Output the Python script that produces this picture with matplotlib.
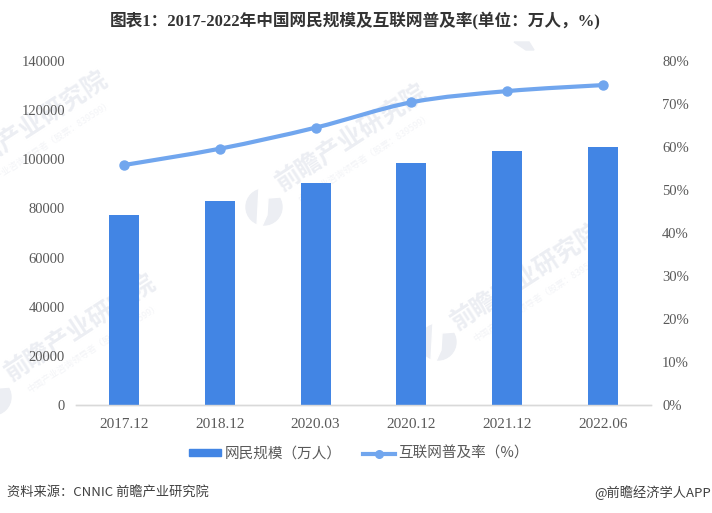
# coding=utf-8
import numpy as np
import matplotlib
matplotlib.use('Agg')
import matplotlib.pyplot as plt
from matplotlib.lines import Line2D
from matplotlib.patches import Patch, PathPatch, Ellipse, Polygon
from matplotlib.path import Path

categories = ['2017.12', '2018.12', '2020.03', '2020.12', '2021.12', '2022.06']
users = [77198, 82851, 90359, 98500, 103195, 105114]
penetration = [55.8, 59.6, 64.5, 70.4, 73.0, 74.4]
left_ticks = [0, 20000, 40000, 60000, 80000, 100000, 120000, 140000]
right_ticks = [0, 10, 20, 30, 40, 50, 60, 70, 80]

BAR_BLUE = '#4285E4'
LINE_BLUE = '#71A6EE'
TEXT_GREY = '#595959'
MARK_GREY = '#ECEEF3'
FONTS = ['Liberation Serif', 'Noto Sans CJK SC']
CJK = ['Noto Sans CJK SC', 'DejaVu Sans']

W, H = 712, 513
plt.rcParams['font.family'] = FONTS

fig = plt.figure(figsize=(W / 100, H / 100), dpi=100)


def px(x, y):
    #  Pixel position from the top left to figure fraction
    return x / W, 1 - y / H


def smooth_path(xs, ys):
    #  Catmull-Rom style curve through the data points
    xs, ys = np.asarray(xs, float), np.asarray(ys, float)
    verts = [(xs[0], ys[0])]
    codes = [Path.MOVETO]
    for i in range(len(xs) - 1):
        i0, i3 = max(i - 1, 0), min(i + 2, len(xs) - 1)
        verts.append((xs[i] + (xs[i + 1] - xs[i0]) / 6, ys[i] + (ys[i + 1] - ys[i0]) / 6))
        verts.append((xs[i + 1] - (xs[i3] - xs[i]) / 6, ys[i + 1] - (ys[i3] - ys[i]) / 6))
        verts.append((xs[i + 1], ys[i + 1]))
        codes += [Path.CURVE4] * 3
    return Path(verts, codes)


#  Watermarks sit behind the axes
for mx, my in [(81, 328), (352, 138), (527, 277), (33, 125)]:
    fig.text(mx / W, 1 - my / H, '前瞻产业研究院', rotation=33, rotation_mode='anchor',
             ha='center', va='center', fontsize=18, fontweight='bold', color=MARK_GREY,
             family=CJK, zorder=-2, clip_on=True)
    fig.text((mx + 13) / W, 1 - (my + 20) / H, '中国产业咨询领导者（股票：839599）', rotation=33,
             rotation_mode='anchor', ha='center', va='center', fontsize=6.5,
             color='#F3F4F7', family=CJK, zorder=-2, clip_on=True)
logo_cut = [(-5, -19), (19, -19), (17, -10), (4, -9), (3, 8), (-2, 19), (-7, 19), (-6, 0)]
for cx, cy in [(264, 207), (438, 342), (-7, 397)]:
    fig.add_artist(Ellipse(px(cx, cy), 36 / W, 36 / H, transform=fig.transFigure,
                           color=MARK_GREY, zorder=-2))
    #  White cut in the logo
    fig.add_artist(Polygon([px(cx + dx, cy + dy) for dx, dy in logo_cut], closed=True,
                           transform=fig.transFigure, color='white', zorder=-1.5))
fig.add_artist(Polygon([px(514, 42), px(529, 42), px(534, 50), px(526, 50)], closed=True,
                       transform=fig.transFigure, color=MARK_GREY, zorder=-2))

ax = fig.add_axes([76 / W, 1 - 405 / H, 575 / W, 344 / H])
ax2 = ax.twinx()
ax.patch.set_alpha(0)
ax2.patch.set_alpha(0)

x = np.arange(len(categories))
ax.bar(x, users, width=0.313, color=BAR_BLUE, zorder=3)
ax.set_xlim(-0.5, 5.5)
ax.set_ylim(0, 140000)
ax.set_yticks(left_ticks)
ax.set_xticks(x)
ax.set_xticklabels(categories)

ax2.set_ylim(0, 80)
ax2.set_yticks(right_ticks)
ax2.set_yticklabels(['%d%%' % t for t in right_ticks])
ax2.add_patch(PathPatch(smooth_path(x, penetration), fill=False, edgecolor=LINE_BLUE,
                        lw=3.0, capstyle='round', zorder=4))
ax2.plot(x, penetration, ls='none', marker='o', ms=6.5, color=LINE_BLUE, zorder=5)

for a in (ax, ax2):
    for side in ('top', 'left', 'right'):
        a.spines[side].set_visible(False)
    a.spines['bottom'].set_color('#D9D9D9')
    a.spines['bottom'].set_linewidth(1.0)
    a.tick_params(length=0, labelcolor=TEXT_GREY)
ax.tick_params(axis='x', pad=9, labelsize=11)
ax.tick_params(axis='y', pad=8, labelsize=10.5)
ax2.tick_params(axis='y', pad=8, labelsize=10.5)

fig.text(355.5 / W, 1 - 21 / H, '图表1：2017-2022年中国网民规模及互联网普及率(单位：万人，%)',
         ha='center', va='center', fontsize=12, fontweight='bold', color='#333333')

handles = [Patch(color=BAR_BLUE),
           Line2D([], [], color=LINE_BLUE, lw=3.0, marker='o', ms=5.5)]
fig.legend(handles, ['网民规模（万人）', '互联网普及率（%）'],
           loc='center', bbox_to_anchor=(359 / W, 1 - 454 / H), ncol=2, frameon=False,
           prop={'family': CJK, 'size': 10.5}, labelcolor=TEXT_GREY,
           handlelength=2.2, handletextpad=0.2, columnspacing=1.5, handleheight=0.35)

fig.text(7 / W, 1 - 492.5 / H, '资料来源：CNNIC 前瞻产业研究院', ha='left', va='center',
         fontsize=9.5, color='#404040', family=CJK)
fig.text(711 / W, 1 - 492.5 / H, '@前瞻经济学人APP', ha='right', va='center',
         fontsize=9.5, color='#404040', family=CJK)

fig.savefig('out.png', dpi=100)
